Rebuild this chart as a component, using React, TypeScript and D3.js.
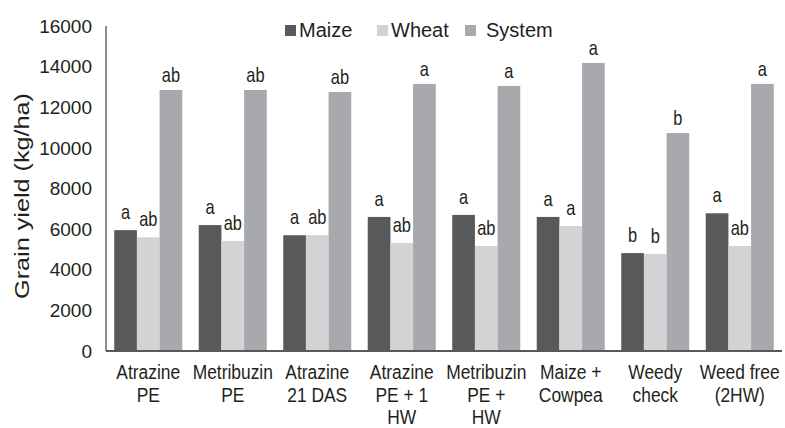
import { useEffect, useRef } from "react";
import * as d3 from "d3";

const CATEGORIES = [
  ["Atrazine", "PE"],
  ["Metribuzin", "PE"],
  ["Atrazine", "21 DAS"],
  ["Atrazine", "PE + 1", "HW"],
  ["Metribuzin", "PE +", "HW"],
  ["Maize +", "Cowpea"],
  ["Weedy", "check"],
  ["Weed free", "(2HW)"],
];

const MAIZE = [5950, 6200, 5700, 6600, 6700, 6600, 4820, 6780];
const WHEAT = [5600, 5420, 5700, 5320, 5170, 6150, 4780, 5170];
const SYSTEM = [12850, 12850, 12750, 13150, 13050, 14180, 10730, 13150];

const MAIZE_LETTERS = ["a", "a", "a", "a", "a", "a", "b", "a"];
const WHEAT_LETTERS = ["ab", "ab", "ab", "ab", "ab", "a", "b", "ab"];
const SYSTEM_LETTERS = ["ab", "ab", "ab", "a", "a", "a", "b", "a"];

const Y_TICKS = [0, 2000, 4000, 6000, 8000, 10000, 12000, 14000, 16000];

const SERIES = [
  { key: "Maize", values: MAIZE, letters: MAIZE_LETTERS, color: "#58595b" },
  { key: "Wheat", values: WHEAT, letters: WHEAT_LETTERS, color: "#d1d3d4" },
  { key: "System", values: SYSTEM, letters: SYSTEM_LETTERS, color: "#a7a9ac" },
];

const FONT = "'Liberation Sans', Arial, sans-serif";
const INK = "#231f20";

export default function App() {
  const svgRef = useRef<SVGSVGElement | null>(null);

  useEffect(() => {
    if (!svgRef.current) return;
    const W = 785;
    const H = 428;
    const left = 106, right = 782, top = 26, bottom = 351;

    const svg = d3.select(svgRef.current);
    svg.selectAll("*").remove();
    svg.attr("width", W).attr("height", H);

    const x = d3.scaleBand<number>()
      .domain(d3.range(CATEGORIES.length))
      .range([left, right])
      .paddingInner(0.195)
      .paddingOuter(0.0975);
    const x1 = d3.scaleBand<string>()
      .domain(SERIES.map(s => s.key))
      .range([0, x.bandwidth()]);
    const y = d3.scaleLinear().domain([0, 16000]).range([bottom, top]);

    // Bars + letters
    SERIES.forEach(s => {
      const g = svg.append("g");
      g.selectAll("rect")
        .data(s.values)
        .join("rect")
        .attr("x", (_, i) => x(i)! + x1(s.key)!)
        .attr("y", d => y(d))
        .attr("width", x1.bandwidth())
        .attr("height", d => y(0) - y(d))
        .attr("fill", s.color);

      const off = s.key === "System" ? 8 : 11;
      g.selectAll("text")
        .data(s.values)
        .join("text")
        .attr("transform", (d, i) =>
          `translate(${x(i)! + x1(s.key)! + x1.bandwidth() / 2},${y(d) - off}) scale(0.82,1)`)
        .attr("text-anchor", "middle")
        .attr("font-family", FONT)
        .attr("font-size", 20)
        .attr("fill", INK)
        .text((_, i) => s.letters[i]);
    });

    // Y axis
    svg.append("line")
      .attr("x1", left).attr("x2", left)
      .attr("y1", top).attr("y2", bottom)
      .attr("stroke", "#404040").attr("stroke-width", 1.2);

    svg.append("g")
      .selectAll("text")
      .data(Y_TICKS)
      .join("text")
      .attr("x", left - 14)
      .attr("y", d => y(d))
      .attr("dy", "0.35em")
      .attr("text-anchor", "end")
      .attr("font-family", FONT)
      .attr("font-size", 19)
      .attr("fill", INK)
      .text(d => d);

    // X axis
    svg.append("line")
      .attr("x1", left).attr("x2", right)
      .attr("y1", bottom).attr("y2", bottom)
      .attr("stroke", "#595959").attr("stroke-width", 2);

    CATEGORIES.forEach((lines, i) => {
      lines.forEach((ln, j) => {
        svg.append("text")
          .attr("transform", `translate(${x(i)! + x.bandwidth() / 2},${379 + j * 22.5}) scale(0.87,1)`)
          .attr("text-anchor", "middle")
          .attr("font-family", FONT)
          .attr("font-size", 20)
          .attr("fill", INK)
          .text(ln);
      });
    });

    // Y axis title
    svg.append("text")
      .attr("transform", `translate(29,196) rotate(-90) scale(1.2,1)`)
      .attr("text-anchor", "middle")
      .attr("font-family", FONT)
      .attr("font-size", 21)
      .attr("fill", INK)
      .text("Grain yield (kg/ha)");

    // Legend
    const legendX = [285, 377, 465];
    SERIES.forEach((s, i) => {
      svg.append("rect")
        .attr("x", legendX[i]).attr("y", 25)
        .attr("width", 11).attr("height", 11)
        .attr("fill", s.color);
      svg.append("text")
        .attr("x", legendX[i] + (i === 2 ? 21 : 14))
        .attr("y", 37)
        .attr("font-family", FONT)
        .attr("font-size", 20)
        .attr("fill", INK)
        .text(s.key);
    });
  }, []);

  return (
    <svg ref={svgRef} style={{ position: "absolute", left: 0, top: 0, display: "block", background: "#fff" }} />
  );
}
